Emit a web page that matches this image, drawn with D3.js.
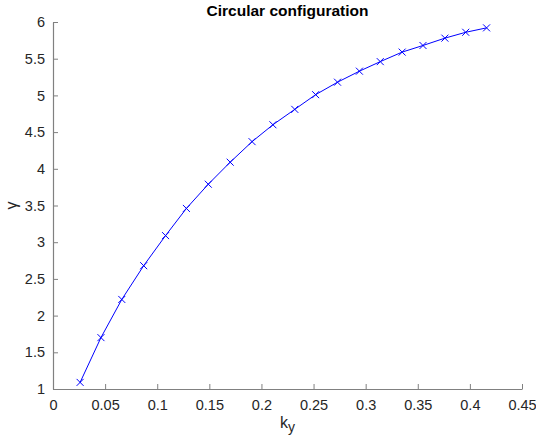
<!DOCTYPE html>
<html>
<head>
<meta charset="utf-8">
<script src="https://cdn.jsdelivr.net/npm/d3@7"></script>
<style>
  html, body { margin: 0; padding: 0; background: #fff; }
  svg { display: block; }
  text { font-family: "Liberation Sans", Arial, Helvetica, sans-serif; }
</style>
</head>
<body>
<svg id="chart" width="536" height="443"></svg>
<script>
const titleText = "Circular configuration";
const xValues = [0.026, 0.046, 0.066, 0.087, 0.108, 0.128, 0.149, 0.170, 0.191, 0.211,
                 0.232, 0.252, 0.273, 0.294, 0.314, 0.335, 0.355, 0.376, 0.396, 0.416];
const yValues = [1.09, 1.70, 2.22, 2.68, 3.09, 3.46, 3.79, 4.09, 4.37, 4.60,
                 4.81, 5.01, 5.18, 5.33, 5.46, 5.59, 5.68, 5.78, 5.86, 5.92];
const xTicks = [0, 0.05, 0.1, 0.15, 0.2, 0.25, 0.3, 0.35, 0.4, 0.45];
const xTickLabels = ["0", "0.05", "0.1", "0.15", "0.2", "0.25", "0.3", "0.35", "0.4", "0.45"];
const yTicks = [1, 1.5, 2, 2.5, 3, 3.5, 4, 4.5, 5, 5.5, 6];
const yTickLabels = ["1", "1.5", "2", "2.5", "3", "3.5", "4", "4.5", "5", "5.5", "6"];

(function () {
const svg = d3.select("#chart");
const pLeft = 53, pRight = 522, pTop = 22, pBottom = 389;
const x = d3.scaleLinear().domain([0, 0.45]).range([pLeft, pRight]);
const y = d3.scaleLinear().domain([1, 6]).range([pBottom, pTop]);
const axisColor = "#808080";
const textColor = "#262626";

// X axis
const xAxis = d3.axisBottom(x).tickValues(xTicks)
  .tickFormat((d, i) => xTickLabels[i]).tickSizeInner(-5).tickSizeOuter(0).tickPadding(11);
const gx = svg.append("g").attr("transform", `translate(0,${pBottom})`).call(xAxis);
gx.select(".domain").attr("stroke", axisColor).attr("stroke-width", 1.2);
gx.selectAll(".tick line").attr("stroke", axisColor);
gx.selectAll(".tick text").attr("fill", textColor).attr("font-size", 14.5);

// Y axis
const yAxis = d3.axisLeft(y).tickValues(yTicks)
  .tickFormat((d, i) => yTickLabels[i]).tickSizeInner(-5).tickSizeOuter(0).tickPadding(8);
const gy = svg.append("g").attr("transform", `translate(${pLeft},0)`).call(yAxis);
gy.select(".domain").attr("stroke", axisColor).attr("stroke-width", 1.2);
gy.selectAll(".tick line").attr("stroke", axisColor);
gy.selectAll(".tick text").attr("fill", textColor).attr("font-size", 14.5);

// Line
const pts = xValues.map((v, i) => [v, yValues[i]]);
svg.append("path")
  .datum(pts)
  .attr("fill", "none")
  .attr("stroke", "#0000ff")
  .attr("stroke-width", 1)
  .attr("d", d3.line().x(d => x(d[0])).y(d => y(d[1])));

// Markers
const m = 3.5;
svg.append("g").selectAll("path.mk").data(pts).join("path")
  .attr("class", "mk")
  .attr("fill", "none")
  .attr("stroke", "#0000ff")
  .attr("stroke-width", 1)
  .attr("d", d => {
    const cx = x(d[0]), cy = y(d[1]);
    return `M${cx - m},${cy - m}L${cx + m},${cy + m}M${cx - m},${cy + m}L${cx + m},${cy - m}`;
  });

// Title
svg.append("text")
  .attr("x", (pLeft + pRight) / 2)
  .attr("y", 16)
  .attr("text-anchor", "middle")
  .attr("font-size", 15.5)
  .attr("font-weight", "bold")
  .attr("fill", "#000")
  .text(titleText);

// X label
const xl = svg.append("text")
  .attr("x", (pLeft + pRight) / 2)
  .attr("y", 428)
  .attr("text-anchor", "middle")
  .attr("font-size", 16)
  .attr("fill", textColor);
xl.append("tspan").text("k");
xl.append("tspan").attr("dy", 4).attr("font-size", 14).text("y");

// Y label
svg.append("text")
  .attr("transform", `translate(17,${(pTop + pBottom) / 2}) rotate(-90)`)
  .attr("text-anchor", "middle")
  .attr("font-size", 16)
  .attr("fill", textColor)
  .text("γ");
})();
</script>
</body>
</html>
